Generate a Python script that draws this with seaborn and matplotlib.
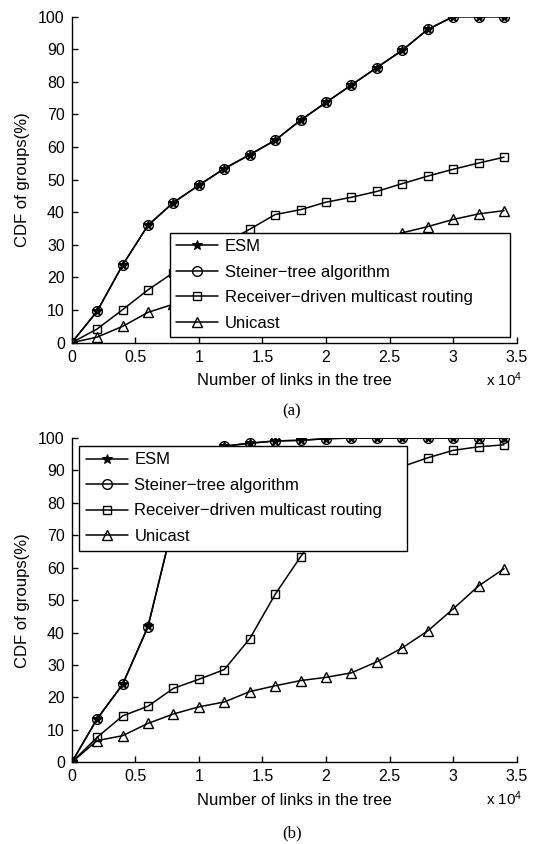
import matplotlib
matplotlib.use("Agg")
import matplotlib.pyplot as plt
from matplotlib.ticker import FuncFormatter
import seaborn as sns

# Number of links in the multicast tree (x axis)
links = [0, 2000, 4000, 6000, 8000, 10000, 12000, 14000, 16000, 18000,
         20000, 22000, 24000, 26000, 28000, 30000, 32000, 34000]

# Panel (a): CDF of groups (%)
esm_a = [0, 9.7, 23.8, 36.0, 43.0, 48.3, 53.4, 57.7, 62.1, 68.3,
         73.7, 79.1, 84.4, 89.7, 96.1, 100, 100, 100]
steiner_a = [0, 9.6, 23.8, 36.0, 43.0, 48.3, 53.4, 57.6, 62.1, 68.2,
             73.7, 79.0, 84.4, 89.7, 96.1, 100, 100, 100]
receiver_a = [0, 4.2, 10.1, 16.2, 21.5, 26.0, 30.5, 34.8, 39.3, 40.8,
              43.1, 44.6, 46.4, 48.8, 51.1, 53.2, 55.1, 56.9]
unicast_a = [0, 1.7, 5.0, 9.3, 11.8, 14.3, 16.8, 19.3, 21.8, 24.3,
             26.7, 29.1, 31.4, 33.7, 35.6, 37.8, 39.5, 40.5]

# Panel (b): CDF of groups (%)
esm_b = [0, 13.5, 24.0, 42.0, 74.0, 92.0, 97.5, 98.4, 99.1, 99.3,
         99.8, 100, 100, 100, 100, 100, 100, 100]
steiner_b = [0, 13.3, 24.0, 41.7, 74.0, 92.0, 97.5, 98.4, 99.1, 99.3,
             99.8, 100, 100, 100, 100, 100, 100, 100]
receiver_b = [0, 7.7, 14.3, 17.3, 22.8, 25.6, 28.6, 38.1, 51.8, 63.4,
              74.0, 82.0, 87.5, 91.2, 93.9, 96.2, 97.3, 97.9]
unicast_b = [0, 6.7, 8.2, 12.0, 14.9, 17.1, 18.6, 21.8, 23.6, 25.2,
             26.2, 27.6, 31.0, 35.3, 40.5, 47.3, 54.4, 59.7]

series_names = ["ESM", "Steiner\u2212tree algorithm",
                "Receiver\u2212driven multicast routing", "Unicast"]
y_ticks = [0, 10, 20, 30, 40, 50, 60, 70, 80, 90, 100]
x_ticks = [0, 5000, 10000, 15000, 20000, 25000, 30000, 35000]

sns.set_style("ticks")
plt.rcParams["font.family"] = ["Liberation Sans", "DejaVu Sans"]
plt.rcParams["mathtext.default"] = "regular"

styles = [
    dict(marker="*", markersize=7, markerfacecolor="black", markeredgecolor="black"),
    dict(marker="o", markersize=7, markerfacecolor="none", markeredgecolor="black",
         markeredgewidth=1.0),
    dict(marker="s", markersize=5.5, markerfacecolor="none", markeredgecolor="black",
         markeredgewidth=1.0),
    dict(marker="^", markersize=7, markerfacecolor="none", markeredgecolor="black",
         markeredgewidth=1.0),
]

fig = plt.figure(figsize=(5.4, 8.44), dpi=100)
ax_a = fig.add_axes([0.1328, 0.5940, 0.8241, 0.3862])
ax_b = fig.add_axes([0.1328, 0.0968, 0.8241, 0.3842])


def draw_panel(ax, curves, legend_box, legend_loc):
    for vals, name, st in zip(curves, series_names, styles):
        sns.lineplot(x=links, y=vals, ax=ax, color="black", linewidth=1.1,
                     label=name, **st)
    ax.set_xlim(0, 35000)
    ax.set_ylim(0, 100)
    ax.set_xticks(x_ticks)
    ax.set_yticks(y_ticks)
    ax.xaxis.set_major_formatter(FuncFormatter(lambda v, p: f"{v / 1e4:g}"))
    ax.tick_params(direction="in", length=4, width=1, pad=5, labelsize=11.5,
                   colors="black", top=False, right=False)
    for side in ("top", "right"):
        ax.spines[side].set_visible(False)
    for side in ("left", "bottom"):
        ax.spines[side].set_linewidth(1.0)
        ax.spines[side].set_color("black")
    ax.set_xlabel("Number of links in the tree", fontsize=12, color="black",
                  labelpad=6)
    ax.set_ylabel("CDF of groups(%)", fontsize=12, color="black", labelpad=6)
    ax.text(1.0135, -0.133, "x 10$^4$", transform=ax.transAxes, ha="right",
            va="baseline", fontsize=11, color="black")
    leg = ax.legend(loc=legend_loc, bbox_to_anchor=legend_box, mode="expand",
                    frameon=True, fancybox=False, edgecolor="black", framealpha=1,
                    fontsize=12, handlelength=2.5, handletextpad=0.4,
                    labelspacing=0.63, borderpad=0.4, borderaxespad=0)
    leg.get_frame().set_linewidth(1.0)
    for t in leg.get_texts():
        t.set_color("black")


draw_panel(ax_a, [esm_a, steiner_a, receiver_a, unicast_a],
           (0.22, 0.016, 0.766, 0.323), "lower left")
draw_panel(ax_b, [esm_b, steiner_b, receiver_b, unicast_b],
           (0.017, 0.665, 0.736, 0.311), "upper left")

fig.text(291.7 / 540, 1 - 411.7 / 844, "(a)", ha="center", va="center",
         fontsize=12, family="Liberation Serif", color="black")
fig.text(291.7 / 540, 1 - 833.0 / 844, "(b)", ha="center", va="center",
         fontsize=12, family="Liberation Serif", color="black")

fig.savefig("out.png", dpi=100, facecolor="white")
